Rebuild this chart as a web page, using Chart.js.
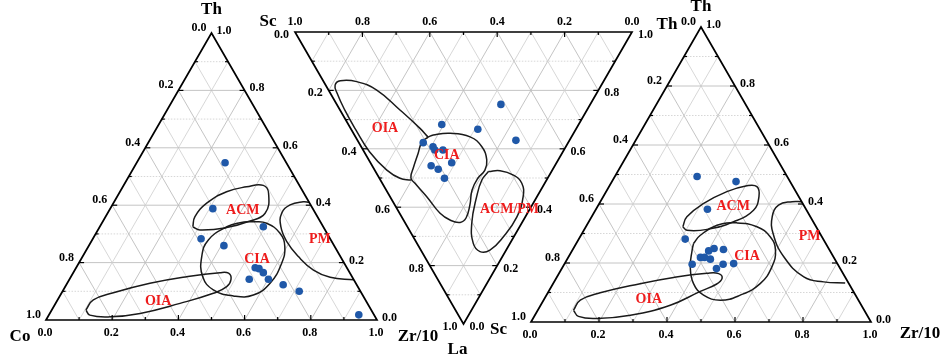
<!DOCTYPE html>
<html lang="en">
<head>
<meta charset="UTF-8">
<title>Th-Co-Zr/10, La-Th-Sc and Th-Sc-Zr/10 diagrams</title>
<script src="https://cdn.jsdelivr.net/npm/chart.js"></script>
<style>
  body { margin: 0; background: #fff; }
  #wrap { position: relative; width: 941px; height: 357px; }
  #wrap canvas { position: absolute; left: 0; top: 0; }
</style>
</head>
<body>
<div id="wrap">
  <canvas id="left" width="941" height="357"></canvas>
  <canvas id="middle" width="941" height="357"></canvas>
  <canvas id="right" width="941" height="357"></canvas>
</div>
<script>
// ---- left diagram: Th - Co - Zr/10, pairs are [Zr/10, Th]
const leftZr = [0.267, 0.310, 0.494, 0.327, 0.408, 0.541, 0.554, 0.574, 0.543, 0.601, 0.655, 0.715, 0.936];
const leftTh = [0.548, 0.388, 0.325, 0.283, 0.259, 0.182, 0.179, 0.165, 0.142, 0.142, 0.123, 0.100, 0.018];
const leftACM = [[0.281,0.325],[0.308,0.314],[0.385,0.322],[0.440,0.343],[0.476,0.372],[0.452,0.441],[0.422,0.469],[0.374,0.464],[0.322,0.447],[0.282,0.407],[0.270,0.360]];
const leftCIA = [[0.455,0.343],[0.498,0.337],[0.556,0.302],[0.594,0.255],[0.613,0.198],[0.613,0.128],[0.583,0.087],[0.524,0.084],[0.453,0.105],[0.398,0.151],[0.360,0.221],[0.351,0.279],[0.384,0.325],[0.417,0.339]];
const leftOIA = [[0.103,0.035],[0.124,0.017],[0.188,0.011],[0.273,0.023],[0.376,0.058],[0.459,0.093],[0.488,0.116],[0.488,0.142],[0.470,0.163],[0.443,0.165],[0.350,0.151],[0.250,0.128],[0.156,0.095],[0.108,0.070]];
const leftPM = [[0.590,0.410],[0.571,0.412],[0.537,0.401],[0.526,0.372],[0.547,0.325],[0.591,0.273],[0.652,0.221],[0.721,0.174],[0.784,0.149],[0.860,0.140]];
const leftFieldNames = ['ACM', 'CIA', 'OIA', 'PM'];
const leftFieldPos = [[0.403,0.383],[0.532,0.211],[0.307,0.064],[0.687,0.281]];

// ---- middle diagram: Sc - Th - La, pairs are [Th, La]
const midTh = [0.487, 0.277, 0.376, 0.470, 0.191, 0.213, 0.213, 0.237, 0.241, 0.175, 0.190, 0.193];
const midLa = [0.248, 0.317, 0.333, 0.371, 0.379, 0.393, 0.404, 0.404, 0.448, 0.458, 0.470, 0.501];
const midOIA = [[0.091,0.507],[0.061,0.501],[0.036,0.473],[0.016,0.410],[0.013,0.336],[0.014,0.267],[0.020,0.210],[0.028,0.182],[0.051,0.167],[0.098,0.170],[0.143,0.199],[0.178,0.267],[0.206,0.330],[0.215,0.360]];
const midCIA = [[0.215,0.360],[0.234,0.353],[0.287,0.347],[0.340,0.359],[0.358,0.393],[0.350,0.438],[0.327,0.473],[0.293,0.500],[0.255,0.541],[0.223,0.592],[0.189,0.637],[0.164,0.652],[0.138,0.644],[0.120,0.621],[0.109,0.564],[0.097,0.518],[0.094,0.500],[0.118,0.466],[0.158,0.415],[0.188,0.377]];
const midACMPM = [[0.335,0.478],[0.371,0.475],[0.403,0.490],[0.414,0.518],[0.395,0.564],[0.342,0.633],[0.268,0.701],[0.205,0.747],[0.173,0.752],[0.167,0.724],[0.197,0.655],[0.257,0.564],[0.301,0.507]];
const midFieldNames = ['OIA', 'CIA', 'ACM/PM'];
const midFieldPos = [[0.102,0.330],[0.240,0.421],[0.333,0.607]];

// ---- right diagram: Th - Sc - Zr/10, pairs are [Zr/10, Th]
const rightZr = [0.242, 0.365, 0.328, 0.313, 0.402, 0.414, 0.443, 0.389, 0.401, 0.421, 0.376, 0.467, 0.497, 0.455];
const rightTh = [0.493, 0.476, 0.382, 0.281, 0.241, 0.249, 0.246, 0.219, 0.219, 0.213, 0.196, 0.196, 0.198, 0.181];
const rightACM = [[0.285,0.323],[0.303,0.311],[0.361,0.314],[0.426,0.340],[0.465,0.379],[0.458,0.425],[0.435,0.459],[0.404,0.462],[0.355,0.442],[0.307,0.402],[0.280,0.357]];
const rightCIA = [[0.345,0.266],[0.351,0.294],[0.383,0.328],[0.438,0.336],[0.503,0.323],[0.559,0.289],[0.597,0.244],[0.615,0.187],[0.609,0.130],[0.570,0.091],[0.520,0.074],[0.462,0.091],[0.413,0.130],[0.375,0.187],[0.352,0.244]];
const rightOIA = [[0.105,0.040],[0.130,0.019],[0.188,0.012],[0.281,0.023],[0.381,0.057],[0.446,0.104],[0.481,0.128],[0.488,0.148],[0.470,0.164],[0.435,0.165],[0.344,0.151],[0.256,0.130],[0.154,0.099],[0.108,0.074]];
const rightPM = [[0.593,0.408],[0.564,0.408],[0.530,0.396],[0.531,0.357],[0.562,0.300],[0.633,0.221],[0.726,0.153],[0.793,0.136],[0.858,0.132]];
const rightFieldNames = ['ACM', 'CIA', 'OIA', 'PM'];
const rightFieldPos = [[0.399,0.391],[0.524,0.223],[0.308,0.077],[0.675,0.289]];

const tickVals = [0, 0.1, 0.2, 0.3, 0.4, 0.5, 0.6, 0.7, 0.8, 0.9, 1.0];

const SERIF = '"Liberation Serif", "Times New Roman", serif';
const DOT = '#1f58a8';
const RED = '#ee1c1c';

// b = component of the right-hand corner, c = component of the apex corner
function toXY(b, c) { return { x: b + c / 2, y: c }; }

function px(chart, b, c) {
  return [chart.scales.x.getPixelForValue(b + c / 2), chart.scales.y.getPixelForValue(c)];
}

function line(ctx, p, q) {
  ctx.beginPath(); ctx.moveTo(p[0], p[1]); ctx.lineTo(q[0], q[1]); ctx.stroke();
}

const ternaryPlugin = {
  id: 'ternary',
  beforeDatasetsDraw(chart) {
    const ctx = chart.ctx;
    ctx.save();
    ctx.lineWidth = 0.9;
    for (let k = 1; k < 10; k++) {
      const v = tickVals[k];
      const odd = k % 2 === 1;
      ctx.strokeStyle = odd ? '#d2d2d2' : '#bdbdbd';
      // odd horizontal lines are dotted, the rest solid
      ctx.setLineDash(odd ? [1.5, 1.5] : []);
      line(ctx, px(chart, 0, v), px(chart, 1 - v, v));
      ctx.setLineDash([]);
      line(ctx, px(chart, v, 0), px(chart, v, 1 - v));
      line(ctx, px(chart, 1 - v, 0), px(chart, 0, 1 - v));
    }
    ctx.restore();
  },
  afterDatasetsDraw(chart) {
    const opt = chart.options.plugins.ternary;
    const ctx = chart.ctx;
    ctx.save();
    // frame
    const A = px(chart, 0, 0), B = px(chart, 1, 0), C = px(chart, 0, 1);
    ctx.strokeStyle = '#000';
    ctx.lineWidth = 1.7;
    ctx.beginPath();
    ctx.moveTo(A[0], A[1]); ctx.lineTo(B[0], B[1]); ctx.lineTo(C[0], C[1]); ctx.closePath();
    ctx.stroke();
    // ticks and tick labels
    ctx.font = 'bold 12px ' + SERIF;
    ctx.fillStyle = '#000';
    ctx.textBaseline = 'middle';
    opt.edges.forEach(e => {
      tickVals.forEach((t, i) => {
        const b = e.from[0] + t * (e.to[0] - e.from[0]);
        const c = e.from[1] + t * (e.to[1] - e.from[1]);
        const p = px(chart, b, c);
        if (i > 0 && i < 10) {
          const len = i % 2 === 0 ? 5 : 3;
          ctx.lineWidth = 1.2;
          line(ctx, p, [p[0] + e.tick[0] * len, p[1] + e.tick[1] * len]);
        }
        if (i % 2 === 0) {
          const val = e.v0 + t * (e.v1 - e.v0);
          ctx.textAlign = e.align;
          ctx.fillText(Math.abs(val).toFixed(1), p[0] + e.off[0], p[1] + e.off[1]);
        }
      });
    });
    // field names
    ctx.font = 'bold 14px ' + SERIF;
    ctx.fillStyle = RED;
    ctx.textAlign = 'center';
    opt.fieldNames.forEach((name, i) => {
      const p = px(chart, opt.fieldPos[i][0], opt.fieldPos[i][1]);
      ctx.fillText(name, p[0], p[1]);
    });
    // corner titles
    ctx.font = 'bold 17px ' + SERIF;
    ctx.fillStyle = '#000';
    opt.titles.forEach(tt => {
      const p = px(chart, tt.at[0], tt.at[1]);
      ctx.fillText(tt.text, p[0] + tt.off[0], p[1] + tt.off[1]);
    });
    ctx.restore();
  }
};

function curve(pairs, closed) {
  const pts = pairs.map(p => toXY(p[0], p[1]));
  if (closed) pts.push(pts[0]);
  return {
    data: pts, showLine: true, pointRadius: 0, borderColor: '#1a1a1a',
    borderWidth: 1.5, tension: 0.45, fill: false, order: 2, clip: false
  };
}

function dots(bs, cs) {
  return {
    data: bs.map((b, i) => toXY(b, cs[i])), showLine: false, pointRadius: 3.8,
    pointBackgroundColor: DOT, pointBorderWidth: 0, order: 1, clip: false
  };
}

const uprightEdges = [
  { from: [0, 1], to: [0, 0], v0: 0, v1: 1, tick: [1, 0], align: 'right', off: [-5, -5] },
  { from: [0, 1], to: [1, 0], v0: 1, v1: 0, tick: [-1, 0], align: 'left', off: [5, -2] },
  { from: [0, 0], to: [1, 0], v0: 0, v1: 1, tick: [0, -1], align: 'center', off: [-1, 13] }
];
const invertedEdges = [
  { from: [0, 0], to: [1, 0], v0: 1, v1: 0, tick: [0, 1], align: 'center', off: [0, -10] },
  { from: [0, 0], to: [0, 1], v0: 0, v1: 1, tick: [1, 0], align: 'right', off: [-6, 3] },
  { from: [1, 0], to: [0, 1], v0: 1, v1: 0, tick: [-1, 0], align: 'left', off: [6, 3] }
];

function makeChart(id, datasets, padding, inverted, edges, titles, fieldNames, fieldPos) {
  return new Chart(document.getElementById(id), {
    type: 'scatter',
    data: { datasets: datasets },
    options: {
      responsive: false,
      animation: false,
      events: [],
      layout: { padding: padding },
      scales: {
        x: { type: 'linear', min: 0, max: 1, display: false },
        y: { type: 'linear', min: 0, max: 1, display: false, reverse: inverted }
      },
      plugins: {
        legend: { display: false },
        tooltip: { enabled: false },
        ternary: { edges: edges, titles: titles, fieldNames: fieldNames, fieldPos: fieldPos }
      }
    },
    plugins: [ternaryPlugin]
  });
}

makeChart('left',
  [dots(leftZr, leftTh), curve(leftACM, true), curve(leftCIA, true), curve(leftOIA, true), curve(leftPM, false)],
  { left: 46, right: 564, top: 33, bottom: 37 }, false, uprightEdges,
  [ { text: 'Th', at: [0, 1], off: [0, -23] },
    { text: 'Co', at: [0, 0], off: [-26, 17] },
    { text: 'Zr/10', at: [1, 0], off: [41, 17] } ],
  leftFieldNames, leftFieldPos);

makeChart('middle',
  [dots(midTh, midLa), curve(midOIA, false), curve(midCIA, true), curve(midACMPM, true)],
  { left: 295, right: 309, top: 32, bottom: 33 }, true, invertedEdges,
  [ { text: 'Sc', at: [0, 0], off: [-27, -10] },
    { text: 'Th', at: [1, 0], off: [35, -7] },
    { text: 'La', at: [0, 1], off: [-6, 26] },
    { text: 'Sc', at: [0, 1], off: [35, 6] } ],
  midFieldNames, midFieldPos);

makeChart('right',
  [dots(rightZr, rightTh), curve(rightACM, true), curve(rightCIA, true), curve(rightOIA, true), curve(rightPM, false)],
  { left: 531, right: 70, top: 27, bottom: 35 }, false, uprightEdges,
  [ { text: 'Th', at: [0, 1], off: [0, -20] },
    { text: 'Zr/10', at: [1, 0], off: [49, 12] } ],
  rightFieldNames, rightFieldPos);
</script>
</body>
</html>
